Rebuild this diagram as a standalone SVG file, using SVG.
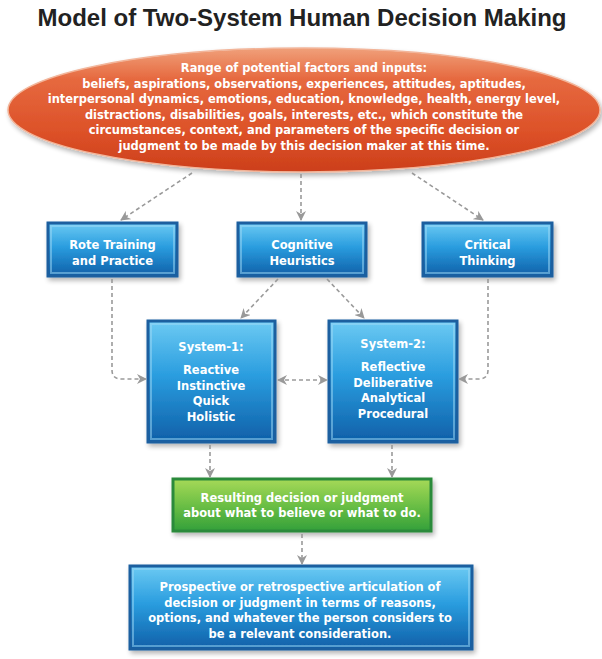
<svg xmlns="http://www.w3.org/2000/svg" width="602" height="659" viewBox="0 0 602 659">
<defs>
<linearGradient id="gOrange" x1="0" y1="0" x2="0" y2="1">
<stop offset="0" stop-color="#f0a07a"/>
<stop offset="0.25" stop-color="#e6693f"/>
<stop offset="0.7" stop-color="#dc5027"/>
<stop offset="1" stop-color="#cc3f1b"/>
</linearGradient>
<linearGradient id="gBlue" x1="0" y1="0" x2="0" y2="1">
<stop offset="0" stop-color="#6ccaf3"/>
<stop offset="0.45" stop-color="#2a9ddf"/>
<stop offset="1" stop-color="#0f5fa8"/>
</linearGradient>
<linearGradient id="gGreen" x1="0" y1="0" x2="0" y2="1">
<stop offset="0" stop-color="#a6d957"/>
<stop offset="0.5" stop-color="#6cbf45"/>
<stop offset="1" stop-color="#33a03a"/>
</linearGradient>
<filter id="shadow" x="-10%" y="-10%" width="125%" height="130%">
<feGaussianBlur in="SourceAlpha" stdDeviation="2.5"/>
<feOffset dx="2" dy="3" result="b"/>
<feComponentTransfer><feFuncA type="linear" slope="0.3"/></feComponentTransfer>
<feMerge><feMergeNode/><feMergeNode in="SourceGraphic"/></feMerge>
</filter>
<marker id="arr" viewBox="0 0 10 10" refX="9" refY="5" markerWidth="10" markerHeight="10" markerUnits="userSpaceOnUse" orient="auto-start-reverse">
<path d="M0,0 L10,5 L0,10 L3,5 z" fill="#999"/>
</marker>
</defs>
<style>
.title{font-family:"Liberation Sans",Arial,sans-serif;font-weight:bold;font-size:24px;fill:#222;text-anchor:middle}
.t{font-family:"DejaVu Sans","Liberation Sans",sans-serif;font-weight:bold;font-size:11.5px;fill:#fff;text-anchor:middle}
.e{font-family:"DejaVu Sans","Liberation Sans",sans-serif;font-weight:bold;font-size:11.45px;fill:#fff;text-anchor:middle}
.box{fill:url(#gBlue);stroke:#1a5f9f;stroke-width:3}
.glow{fill:none;stroke:#9fdaf6;stroke-width:2}
.gbox{fill:url(#gGreen);stroke:#2a8a3a;stroke-width:3}
.conn path{fill:none;stroke:#9a9a9a;stroke-width:1.6;stroke-dasharray:4 3;marker-end:url(#arr)}
</style>
<rect width="602" height="659" fill="#fff"/>
<text class="title" x="302" y="26">Model of Two-System Human Decision Making</text>

<g id="inputs">
<ellipse cx="304" cy="110" rx="296" ry="62" fill="url(#gOrange)" stroke="#f2b59a" stroke-width="1.5" filter="url(#shadow)"/>
<text class="e" x="304" y="72">Range of potential factors and inputs:</text>
<text class="e" x="304" y="87.5">beliefs, aspirations, observations, experiences, attitudes, aptitudes,</text>
<text class="e" x="304" y="103">interpersonal dynamics, emotions, education, knowledge, health, energy level,</text>
<text class="e" x="304" y="118.5">distractions, disabilities, goals, interests, etc., which constitute the</text>
<text class="e" x="304" y="134">circumstances, context, and parameters of the specific decision or</text>
<text class="e" x="304" y="149.5">judgment to be made by this decision maker at this time.</text>
</g>

<g id="rote">
<rect class="box" x="48" y="223" width="129" height="53" filter="url(#shadow)"/>
<rect class="glow" x="51" y="226" width="123" height="47" stroke-opacity="0.5"/>
<text class="t" x="112.5" y="249">Rote Training</text>
<text class="t" x="112.5" y="264.5">and Practice</text>
</g>

<g id="heuristics">
<rect class="box" x="238" y="223" width="128" height="53" filter="url(#shadow)"/>
<rect class="glow" x="241" y="226" width="122" height="47" stroke-opacity="0.5"/>
<text class="t" x="302" y="249">Cognitive</text>
<text class="t" x="302" y="264.5">Heuristics</text>
</g>

<g id="critical">
<rect class="box" x="423" y="223" width="129" height="53" filter="url(#shadow)"/>
<rect class="glow" x="426" y="226" width="123" height="47" stroke-opacity="0.5"/>
<text class="t" x="487.5" y="249">Critical</text>
<text class="t" x="487.5" y="264.5">Thinking</text>
</g>

<g id="system1">
<rect class="box" x="148" y="321" width="127" height="121" filter="url(#shadow)"/>
<rect class="glow" x="151" y="324" width="121" height="115" stroke-opacity="0.5"/>
<text class="t" x="211" y="351">System-1:</text>
<text class="t" x="211" y="374">Reactive</text>
<text class="t" x="211" y="389.5">Instinctive</text>
<text class="t" x="211" y="405">Quick</text>
<text class="t" x="211" y="420.5">Holistic</text>
</g>

<g id="system2">
<rect class="box" x="329" y="321" width="128" height="121" filter="url(#shadow)"/>
<rect class="glow" x="332" y="324" width="122" height="115" stroke-opacity="0.5"/>
<text class="t" x="393" y="348">System-2:</text>
<text class="t" x="393" y="371">Reflective</text>
<text class="t" x="393" y="387">Deliberative</text>
<text class="t" x="393" y="402">Analytical</text>
<text class="t" x="393" y="417.5">Procedural</text>
</g>

<g id="decision">
<rect class="gbox" x="173" y="479" width="258" height="52" filter="url(#shadow)"/>
<text class="t" x="302" y="502">Resulting decision or judgment</text>
<text class="t" x="302" y="516.5">about what to believe or what to do.</text>
</g>

<g id="articulation">
<rect class="box" x="130" y="566" width="342" height="83" filter="url(#shadow)"/>
<rect class="glow" x="133" y="569" width="336" height="77" stroke-opacity="0.5"/>
<text class="t" x="300" y="591">Prospective or retrospective articulation of</text>
<text class="t" x="300" y="606.5">decision or judgment in terms of reasons,</text>
<text class="t" x="300" y="622">options, and whatever the person considers to</text>
<text class="t" x="300" y="637.5">be a relevant consideration.</text>
</g>

<g id="connectors" class="conn">
<path d="M192,173 L121,220"/>
<path d="M301,174 L301,220"/>
<path d="M412,173 L483,220"/>
<path d="M278,279 L241,318"/>
<path d="M327,279 L364,318"/>
<path d="M112,279 L112,370 Q112,379 121,379 L146,379"/>
<path d="M488,279 L488,370 Q488,379 479,379 L459,379"/>
<path d="M278,380 L327,380" marker-start="url(#arr)"/>
<path d="M210,445 L210,477"/>
<path d="M392,445 L392,477"/>
<path d="M302,534 L302,564"/>
</g>
</svg>
